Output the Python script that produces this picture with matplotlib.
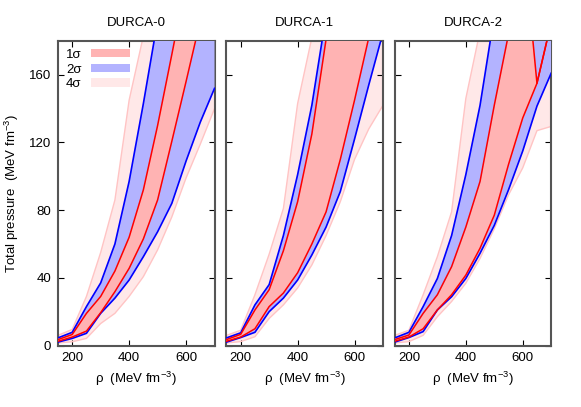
import matplotlib
matplotlib.use("Agg")
import matplotlib.pyplot as plt
from matplotlib.patches import Patch
import numpy as np

plt.rcParams['font.family'] = ['Liberation Sans', 'DejaVu Sans']
plt.rcParams['mathtext.default'] = 'regular'

rho = [150, 200, 250, 300, 350, 400, 450, 500, 550, 600, 650, 700]

titles = ["DURCA-0", "DURCA-1", "DURCA-2"]

# 4-sigma band (lower, upper)
lo4 = [
    [1.5, 2.2, 4.2, 13, 19, 29, 40.7, 56.5, 76, 99, 119, 140],
    [1.5, 2.3, 5.2, 16, 24, 34, 47.6, 65, 85, 110, 128, 142],
    [1.5, 2.3, 6.0, 17, 26, 36.8, 51.5, 69, 89, 105, 127, 129.5],
]
hi4 = [
    [6, 9.5, 29, 55, 86, 145, 183, 230, 280, 330, 380, 430],
    [6, 9.0, 30, 54, 81, 143, 182, 230, 280, 330, 380, 430],
    [6, 9.0, 30, 52.5, 79, 146, 186, 235, 285, 335, 385, 435],
]
# 2-sigma band
lo2 = [
    [2, 4.2, 7.2, 19, 28, 38.7, 52.5, 67.2, 84, 109, 132, 152],
    [2, 4.7, 7.8, 20, 28, 38.7, 53.5, 70, 91, 122, 154, 185],
    [2, 4.7, 8.2, 21, 28.8, 39.6, 54.5, 71, 92, 115, 141.5, 161],
]
hi2 = [
    [4.5, 7.8, 23, 37, 60, 97, 143, 192, 245, 300, 355, 410],
    [4.5, 7.5, 24, 36, 65, 101, 142, 195, 250, 305, 360, 415],
    [4.5, 7.8, 23, 39.6, 65, 101, 142, 195, 250, 305, 360, 415],
]
# 1-sigma band
lo1 = [
    [2.5, 5.0, 8.5, 19.4, 31.8, 45.6, 63, 86, 120.7, 156, 192, 230],
    [2.5, 5.0, 9.9, 23, 31, 43, 60, 79, 110, 145, 182, 225],
    [2.5, 5.0, 9.9, 21, 30, 41.6, 57.5, 77, 107, 134.5, 155, 191],
]
hi1 = [
    [3.5, 6.5, 19, 29, 44, 64, 92, 130, 172, 215, 260, 305],
    [3.5, 6.6, 21, 33, 56, 85, 125, 181, 240, 300, 360, 420],
    [3.5, 6.2, 19, 30, 46.6, 70, 97, 142, 184, 243, 155, 191],
]

legend_labels = ["1σ", "2σ", "4σ"]

c1_fill = "#ffb3b3"
c2_fill = "#b3b3ff"
c4_fill = "#ffe8e8"
c4_line = "#ffc4c4"
c1_line = "#ff0000"
c2_line = "#0000ff"
spine_c = "#555555"

fig = plt.figure(figsize=(5.81, 4.07), dpi=100)
lefts = [0.0998, 0.3898, 0.6793]
bottom, width, height = 0.1511, 0.2694, 0.7482

for i in range(3):
    ax = fig.add_axes([lefts[i], bottom, width, height])
    ax.fill_between(rho, lo4[i], hi4[i], color=c4_fill, lw=0, zorder=1)
    ax.plot(rho, lo4[i], color=c4_line, lw=1.0, zorder=2)
    ax.plot(rho, hi4[i], color=c4_line, lw=1.0, zorder=2)
    ax.fill_between(rho, lo2[i], hi2[i], color=c2_fill, lw=0, zorder=3)
    ax.fill_between(rho, lo1[i], hi1[i], color=c1_fill, lw=0, zorder=4)
    ax.plot(rho, lo2[i], color=c2_line, lw=1.2, zorder=5)
    ax.plot(rho, hi2[i], color=c2_line, lw=1.2, zorder=5)
    ax.plot(rho, lo1[i], color=c1_line, lw=1.1, zorder=6)
    ax.plot(rho, hi1[i], color=c1_line, lw=1.1, zorder=6)

    ax.set_xlim(150, 700)
    ax.set_ylim(0, 180)
    ax.set_xticks([200, 400, 600])
    ax.set_yticks([0, 40, 80, 120, 160])
    ax.tick_params(direction='in', top=True, right=True, length=4,
                   width=0.8, labelsize=9.5, colors='black', pad=5)
    if i > 0:
        ax.set_yticklabels([])
    for s in ax.spines.values():
        s.set_color(spine_c)
        s.set_linewidth(1.5)
    ax.set_title(titles[i], fontsize=9.5, pad=11)
    ax.set_xlabel(r"ρ  (MeV fm$^{-3}$)", fontsize=9.5, labelpad=4)
    if i == 0:
        ax.set_ylabel(r"Total pressure  (MeV fm$^{-3}$)", fontsize=9.5)
        ax.yaxis.set_label_coords(-0.235, 0.5)
        handles = [Patch(facecolor=c1_fill, edgecolor='none'),
                   Patch(facecolor=c2_fill, edgecolor='none'),
                   Patch(facecolor=c4_fill, edgecolor='none')]
        ax.legend(handles, legend_labels, loc='upper left', frameon=False,
                  markerfirst=False, handlelength=3.0, handleheight=0.6,
                  labelspacing=0.2, handletextpad=0.7, fontsize=9.5,
                  borderaxespad=0.2, bbox_to_anchor=(0.0, 1.0))

fig.savefig("out.png", dpi=100)
